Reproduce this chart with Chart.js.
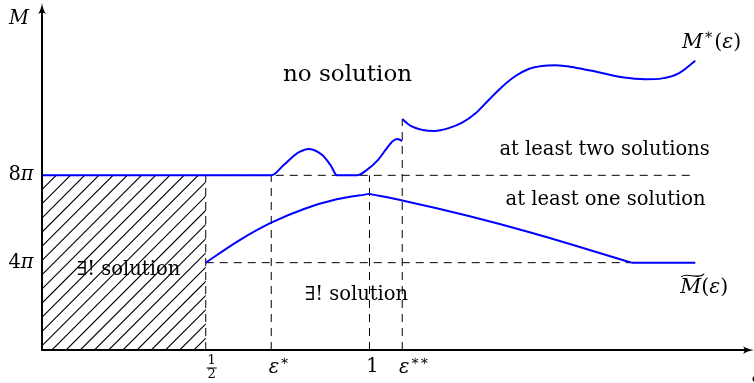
<!DOCTYPE html>
<html><head><meta charset="utf-8">
<script src="https://cdn.jsdelivr.net/npm/chart.js@4/dist/chart.umd.min.js"></script>
<style>html,body{margin:0;padding:0;background:#fff;}canvas{display:block}</style>
</head><body>
<canvas id="c" width="754" height="383"></canvas>
<script>
// ---- data (M in units of pi, x = epsilon) ----
const mStarLowX  = [0, 0.70, 0.738, 0.779, 0.800, 0.813, 0.830, 0.856, 0.881, 0.901, 0.962, 0.993, 1.024, 1.049, 1.069, 1.085, 1.10];
const mStarLowY  = [8, 8,    8.47,  9.01,  9.16,  9.21,  9.16,  8.93,  8.47,  8.0,   8.0,   8.26,  8.67,  9.16,  9.54,  9.66,  9.57];
const mStarHighX = [1.100, 1.126, 1.162, 1.198, 1.242, 1.283, 1.324, 1.364, 1.405, 1.446, 1.486, 1.527, 1.568, 1.629, 1.690, 1.772, 1.843, 1.894, 1.944, 1.995];
const mStarHighY = [10.58, 10.26, 10.08, 10.03, 10.16, 10.41, 10.84, 11.45, 12.06, 12.55, 12.87, 13.01, 13.04, 12.93, 12.75, 12.49, 12.40, 12.44, 12.67, 13.25];
const mTildeRiseX = [0.5, 0.6,  0.7,  0.8,  0.9,  1.0];
const mTildeRiseY = [4,   5.0,  5.83, 6.46, 6.9,  7.15];
const mTildeFallX = [1.0,  1.1,  1.3,  1.5,  1.8];
const mTildeFallY = [7.15, 6.85, 6.15, 5.35, 4.0];
const mTildeTailX = [1.8, 1.995];
const mTildeTailY = [4.0, 4.0];
const xTickValues = [0.5, 0.7, 1, 1.1];
const xTickLabels = ['1/2', 'ε*', '1', 'ε**'];
const yTickValues = [4, 8];
const yTickLabels = ['4', '8'];
const hatchRegionX = [0, 0.5];
const hatchRegionY = [0, 8];

const pts = (xs, ys) => xs.map((x, i) => ({x, y: ys[i]}));
const BLUE = '#0000ff';
const SERIF = '"DejaVu Serif", serif';

// guide lines derived from the data
const curveEnd = mStarHighX[mStarHighX.length - 1];
const guides = [
  pts([xTickValues[0], curveEnd], [yTickValues[1], yTickValues[1]]),
  pts([xTickValues[0], mTildeTailX[0]], [yTickValues[0], yTickValues[0]]),
  pts([xTickValues[0], xTickValues[0]], [0, yTickValues[1]]),
  pts([xTickValues[1], xTickValues[1]], [0, yTickValues[1]]),
  pts([xTickValues[2], xTickValues[2]], [0, yTickValues[1]]),
  pts([xTickValues[3], xTickValues[3]], [0, mStarHighY[0]])
];

const texts = [
  {parts: [{t: 'no solution'}], x: 0.933, y: 12.6, size: 23},
  {parts: [{t: 'at least two solutions'}], x: 1.718, y: 9.16, size: 19.5},
  {parts: [{t: 'at least one solution'}], x: 1.721, y: 6.87, size: 19.5},
  {parts: [{t: '∃! solution'}], x: 0.264, y: 3.66, size: 19.5},
  {parts: [{t: '∃! solution'}], x: 0.960, y: 2.52, size: 19.5},
  {parts: [{t: 'M', it: true}, {t: '∗', sup: true}, {t: '('}, {t: 'ε', it: true}, {t: ')'}], x: 2.045, y: 14.06, size: 20.5},
  {parts: [{t: 'M', it: true, tilde: true}, {t: '('}, {t: 'ε', it: true}, {t: ')'}], x: 2.022, y: 2.84, size: 20.5}
];

function fontFor(p, size) {
  const s = p.sup ? size * 0.7 : size;
  return (p.it ? 'italic ' : '') + s + 'px ' + SERIF;
}
function drawRich(ctx, parts, cx, cy, size) {
  let w = 0;
  parts.forEach(p => { ctx.font = fontFor(p, size); p._w = ctx.measureText(p.t).width + (p.sup ? 1.5 : 0); w += p._w; });
  let x = cx - w / 2;
  ctx.textBaseline = 'middle';
  ctx.textAlign = 'left';
  parts.forEach(p => {
    ctx.font = fontFor(p, size);
    const yy = p.sup ? cy - size * 0.36 : cy;
    ctx.fillText(p.t, x + (p.sup ? 1 : 0), yy);
    if (p.tilde) {
      const x0 = x + 1, x1 = x + p._w + 3, ty = cy - size * 0.62;
      ctx.save();
      ctx.lineWidth = 1.1;
      ctx.beginPath();
      ctx.moveTo(x0, ty + 1.5);
      ctx.bezierCurveTo(x0 + (x1 - x0) * 0.3, ty - 3.5, x0 + (x1 - x0) * 0.7, ty + 5, x1, ty - 1.5);
      ctx.stroke();
      ctx.restore();
    }
    x += p._w;
  });
}

const overlay = {
  id: 'overlay',
  beforeDatasetsDraw(chart) {
    const {ctx, scales: {x: sx, y: sy}} = chart;
    const l = sx.getPixelForValue(hatchRegionX[0]), r = sx.getPixelForValue(hatchRegionX[1]);
    const t = sy.getPixelForValue(hatchRegionY[1]), b = sy.getPixelForValue(hatchRegionY[0]);
    ctx.save();
    ctx.beginPath(); ctx.rect(l, t, r - l, b - t); ctx.clip();
    ctx.strokeStyle = '#000'; ctx.lineWidth = 1.1;
    const H = b - t;
    ctx.beginPath();
    for (let k = -H; k < r - l + 15; k += 14.2) {
      ctx.moveTo(l + k, b); ctx.lineTo(l + k + H, b - H);
    }
    ctx.stroke();
    ctx.restore();
  },
  afterDatasetsDraw(chart) {
    const {ctx, chartArea: ca, scales: {x: sx, y: sy}} = chart;
    const x0 = sx.getPixelForValue(0), y0 = sy.getPixelForValue(0);
    ctx.save();
    ctx.strokeStyle = '#000'; ctx.fillStyle = '#000'; ctx.lineWidth = 2;
    // axes
    ctx.beginPath();
    ctx.moveTo(x0, y0); ctx.lineTo(x0, ca.top + 3);
    ctx.moveTo(x0 - 1, y0); ctx.lineTo(ca.right - 3, y0);
    ctx.stroke();
    // arrow heads
    ctx.beginPath();
    ctx.moveTo(x0, ca.top - 2);
    ctx.quadraticCurveTo(x0 + 1, ca.top + 5, x0 + 4, ca.top + 9);
    ctx.quadraticCurveTo(x0, ca.top + 6, x0 - 4, ca.top + 9);
    ctx.quadraticCurveTo(x0 - 1, ca.top + 5, x0, ca.top - 2);
    ctx.fill();
    const ax = ca.right + 2;
    ctx.beginPath();
    ctx.moveTo(ax, y0);
    ctx.quadraticCurveTo(ax - 7, y0 + 1, ax - 11, y0 + 4);
    ctx.quadraticCurveTo(ax - 8, y0, ax - 11, y0 - 4);
    ctx.quadraticCurveTo(ax - 7, y0 - 1, ax, y0);
    ctx.fill();

    // y tick labels (n pi)
    yTickValues.forEach((v, i) => drawRich(ctx, [{t: yTickLabels[i]}, {t: 'π', it: true}], 21, sy.getPixelForValue(v), 19.5));
    // axis title M
    ctx.textBaseline = 'middle'; ctx.textAlign = 'center';
    ctx.font = 'italic 19.5px ' + SERIF;
    ctx.fillText('M', 19, 19);
    // x axis title (cut by the edge)
    ctx.textAlign = 'left';
    ctx.fillText('ε', 752, 377);

    // x tick labels
    xTickValues.forEach((v, i) => {
      const px = sx.getPixelForValue(v);
      const lab = xTickLabels[i];
      if (lab === '1/2') {
        ctx.font = '13px ' + SERIF; ctx.textAlign = 'center';
        ctx.fillText('1', px + 6, y0 + 11);
        ctx.fillText('2', px + 6, y0 + 25);
        ctx.lineWidth = 1;
        ctx.beginPath(); ctx.moveTo(px + 1, y0 + 18); ctx.lineTo(px + 11, y0 + 18); ctx.stroke();
      } else if (lab.startsWith('ε')) {
        drawRich(ctx, [{t: 'ε', it: true}, {t: lab.slice(1).replace(/\*/g, '∗'), sup: true}], px + (lab.length > 2 ? 12 : 8), y0 + 18, 19.5);
      } else {
        ctx.font = '19.5px ' + SERIF; ctx.textAlign = 'center';
        ctx.fillText(lab, px + 3, y0 + 17);
      }
    });

    // annotations
    texts.forEach(tx => drawRich(ctx, tx.parts, sx.getPixelForValue(tx.x), sy.getPixelForValue(tx.y), tx.size));
    ctx.restore();
  }
};

const blue = (xs, ys) => ({data: pts(xs, ys), borderColor: BLUE, borderWidth: 2, cubicInterpolationMode: 'monotone', order: 0});
const datasets = [
  blue(mStarLowX, mStarLowY),
  blue(mStarHighX, mStarHighY),
  blue(mTildeRiseX, mTildeRiseY),
  blue(mTildeFallX, mTildeFallY),
  blue(mTildeTailX, mTildeTailY)
].concat(guides.map(g => ({data: g, borderColor: '#000', borderWidth: 1, borderDash: [8, 6], tension: 0, order: 1})));

new Chart(document.getElementById('c').getContext('2d'), {
  type: 'line',
  data: {datasets},
  options: {
    responsive: false, animation: false, devicePixelRatio: 1,
    layout: {padding: {left: 42, right: 2, top: 5, bottom: 33}},
    scales: {
      x: {type: 'linear', min: 0, max: 2.168, display: false},
      y: {type: 'linear', min: 0, max: 15.8, display: false}
    },
    elements: {point: {radius: 0}, line: {borderCapStyle: 'butt', borderJoinStyle: 'round'}},
    plugins: {legend: {display: false}, tooltip: {enabled: false}},
    clip: false
  },
  plugins: [overlay]
});
</script>
</body></html>
